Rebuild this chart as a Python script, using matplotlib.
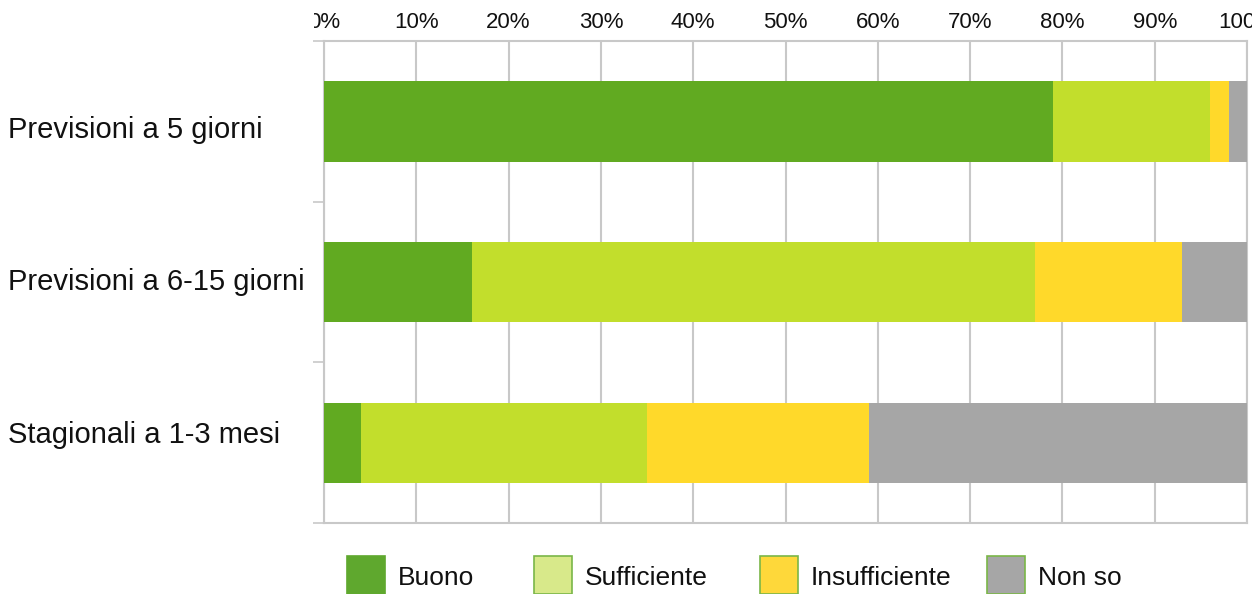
import matplotlib
matplotlib.use("Agg")
import matplotlib.pyplot as plt
from matplotlib.patches import Rectangle
from matplotlib.transforms import Bbox, TransformedBbox

plt.rcParams['font.family'] = ['Liberation Sans', 'DejaVu Sans']

# data
categories = ["Previsioni a 5 giorni", "Previsioni a 6-15 giorni", "Stagionali a 1-3 mesi"]
series_names = ["Buono", "Sufficiente", "Insufficiente", "Non so"]
buono = [79, 16, 4]
sufficiente = [17, 61, 31]
insufficiente = [2, 16, 24]
non_so = [2, 7, 41]
x_ticks = [0, 10, 20, 30, 40, 50, 60, 70, 80, 90, 100]

bar_colors = ["#61aa21", "#c2de2c", "#ffd92a", "#a6a6a6"]
legend_colors = ["#5fa82e", "#d8e98a", "#fed83a", "#a6a6a6"]
grid_col = "#c8c8c8"

W, H = 1259, 594
fig = plt.figure(figsize=(W / 100, H / 100), dpi=100)
ax = fig.add_axes([324 / W, 1 - 523 / H, 923 / W, 482 / H])

ypos = list(range(len(categories)))
left = [0] * len(categories)
for vals, col in zip([buono, sufficiente, insufficiente, non_so], bar_colors):
    ax.barh(ypos, vals, left=left, height=0.5, color=col, edgecolor="none", zorder=3)
    left = [l + v for l, v in zip(left, vals)]

ax.set_xlim(0, 100)
ax.set_ylim(2.5, -0.5)
ax.xaxis.tick_top()
ax.set_xticks(x_ticks)
ax.set_xticklabels([f"{t}%" for t in x_ticks], fontsize=16, color="#111111")
ax.tick_params(axis="x", length=0, pad=6)
ax.grid(axis="x", color=grid_col, linewidth=1.5, zorder=0)

ax.set_yticks([-0.5, 0.5, 1.5, 2.5])
ax.set_yticklabels([])
ax.tick_params(axis="y", length=8, color=grid_col, width=1.2)
for s in ax.spines.values():
    s.set_color(grid_col)
    s.set_linewidth(1.5)

# outer tick labels are cut off in the source image
clip = TransformedBbox(Bbox([[314 / W, 0], [1252 / W, 1]]), fig.transFigure)
for lbl in ax.get_xticklabels():
    lbl.set_clip_box(clip)
    lbl.set_clip_on(True)

# category labels (baselines as in the source, not quite centred on bars)
label_base = [138, 290, 443]
for c, yb in zip(categories, label_base):
    fig.text(8 / W, 1 - yb / H, c, fontsize=21, ha="left", va="baseline", color="#111111")

# legend
sq_x = [347, 534, 760, 987]
for x, name, col in zip(sq_x, series_names, legend_colors):
    edge = col if name == "Buono" else "#7ab648"
    fig.patches.append(Rectangle((x / W, 0), 38 / W, 38 / H, transform=fig.transFigure,
                                 facecolor=col, edgecolor=edge, linewidth=1.2))
    fig.text((x + 51) / W, 1 - 585 / H, name, fontsize=19, ha="left", va="baseline",
             color="#111111")

fig.savefig("out.png", dpi=100)
